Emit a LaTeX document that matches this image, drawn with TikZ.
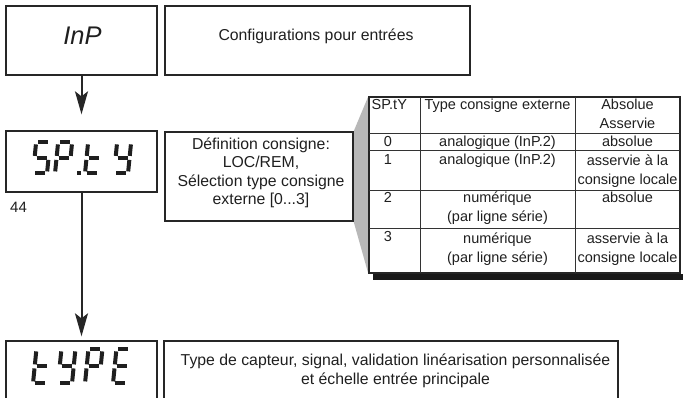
\documentclass[tikz,border=0pt]{standalone}
\usepackage{fontspec}
\setmainfont{Liberation Sans}
\usetikzlibrary{arrows.meta, backgrounds}

\tikzstyle{parambox} = [rectangle, draw = black!85, line width = 1.3pt, inner sep = 0pt]
\tikzstyle{boxtext} = [font = \fontsize{15.8}{18.6}\selectfont, text = black!88, align = center, anchor = base, inner sep = 0pt]
\tikzstyle{celltext} = [font = \fontsize{14.5}{19}\selectfont, text = black!88, align = center, anchor = base, inner sep = 0pt]
\tikzstyle{gridline} = [draw = black!80, line width = 0.9pt]
\tikzstyle{segline} = [line width = 4pt, draw = black!88]
\tikzstyle{flowarrow} = [line width = 2pt, draw = black!85, -{Stealth[length = 23pt, width = 13pt, inset = 5pt]}]

% seven segment digit: x, y (bottom left), height, segments
\newcommand{\segdigit}[4]{%
  \begin{scope}[shift = {(#1,#2)}, xslant = 0.1]
    \def\seght{#3}
    \foreach \s in {#4} {
      \if a\s \draw[segline] (2,\seght) -- (12,\seght); \fi
      \if b\s \draw[segline] (14,\seght-2) -- (14,\seght/2+2); \fi
      \if c\s \draw[segline] (14,\seght/2-2) -- (14,2); \fi
      \if d\s \draw[segline] (2,0) -- (12,0); \fi
      \if e\s \draw[segline] (0,2) -- (0,\seght/2-2); \fi
      \if f\s \draw[segline] (0,\seght/2+2) -- (0,\seght-2); \fi
      \if g\s \draw[segline] (2,\seght/2) -- (12,\seght/2); \fi
    }
  \end{scope}}

\begin{document}
\begin{tikzpicture}[x = 1pt, y = 1pt]
    \useasboundingbox (0,0) rectangle (683,-398);

    % parameter boxes
    \node(inp)[parambox, minimum width = 151pt, minimum height = 69pt] at (81.5,-40.5) {};
    \node(conf)[parambox, minimum width = 305pt, minimum height = 69pt] at (317.5,-40.5) {};
    \node(spty)[parambox, minimum width = 151pt, minimum height = 61pt] at (81.5,-161.5) {};
    \node(def)[parambox, minimum width = 188pt, minimum height = 89pt] at (259,-176.5) {};
    \node(typ)[parambox, minimum width = 151pt, minimum height = 60pt] at (81.5,-371) {};
    \node(typdesc)[parambox, minimum width = 454pt, minimum height = 60pt] at (391,-371) {};

    % texts (base = last line)
    \node(inplabel)[boxtext, font = \fontsize{25.5}{30}\selectfont\itshape] at (82.5,-44.3) {InP};
    \node(conflabel)[boxtext] at (316,-41) {Configurations pour entrées};
    \node(deflabel)[boxtext] at (261,-205) {Définition consigne:\\LOC/REM,\\Sélection type consigne\\externe [0...3]};
    \node(typdesclabel)[boxtext] at (395.5,-384) {Type de capteur, signal, validation linéarisation personnalisée\\et échelle entrée principale};
    \node(pagenum)[boxtext, anchor = base west, font = \fontsize{15}{18}\selectfont] at (10,-213) {44};

    % display digits
    \segdigit{33}{-173.4}{31}{a,f,g,c,d}
    \segdigit{55}{-173.4}{31}{a,b,f,g,e}
    \fill[black!88] (77.4,-175.4) rectangle (81.4,-171.4);
    \segdigit{85}{-173.4}{31}{f,g,e,d}
    \segdigit{114}{-173.4}{31}{b,c,d,f,g}

    \segdigit{33}{-383.4}{34}{f,g,e,d}
    \segdigit{58}{-383.4}{34}{b,c,d,f,g}
    \segdigit{85}{-383.4}{34}{a,b,f,g,e}
    \segdigit{113}{-383.4}{34}{a,d,e,f,g}

    % table
    \node(tab)[rectangle, draw = black!85, line width = 1.4pt, minimum width = 311pt, minimum height = 176pt, inner sep = 0pt] at (524.5,-185) {};
    \fill[black!90] (373,-274.5) rectangle (683,-280.5);
    \draw[gridline] (420,-97) -- (420,-273);
    \draw[gridline] (575,-97) -- (575,-273);
    \foreach \y in {133,150,190,228}
        \draw[gridline] (369,-\y) -- (680,-\y);

    \begin{pgfonlayer}{background}
        \fill[black!28] (def.north east) -- (tab.north west) -- (tab.south west) -- (def.south east) -- cycle;
    \end{pgfonlayer}

    \node(hdnum)[celltext, anchor = base west] at (371.5,-110) {SP.tY};
    \node(hdtype)[celltext] at (497.5,-110) {Type consigne externe};
    \node(hdmode)[celltext] at (627.5,-129) {Absolue\\Asservie};
    \node(num0)[celltext] at (388,-147) {0};
    \node(type0)[celltext] at (497.5,-147) {analogique (InP.2)};
    \node(mode0)[celltext] at (627.5,-147) {absolue};
    \node(num1)[celltext] at (388,-165) {1};
    \node(type1)[celltext] at (497.5,-165) {analogique (InP.2)};
    \node(mode1)[celltext] at (627.5,-185) {asservie à la\\consigne locale};
    \node(num2)[celltext] at (388,-203) {2};
    \node(type2)[celltext] at (497.5,-222) {numérique\\(par ligne série)};
    \node(mode2)[celltext] at (627.5,-203) {absolue};
    \node(num3)[celltext] at (388,-242) {3};
    \node(type3)[celltext] at (497.5,-262) {numérique\\(par ligne série)};
    \node(mode3)[celltext] at (627.5,-262) {asservie à la\\consigne locale};

    % flow
    \draw[flowarrow, shorten > = 16pt] (inp) -- (spty);
    \draw[flowarrow, shorten > = 4pt] (spty) -- (typ);

\end{tikzpicture}
\end{document}
